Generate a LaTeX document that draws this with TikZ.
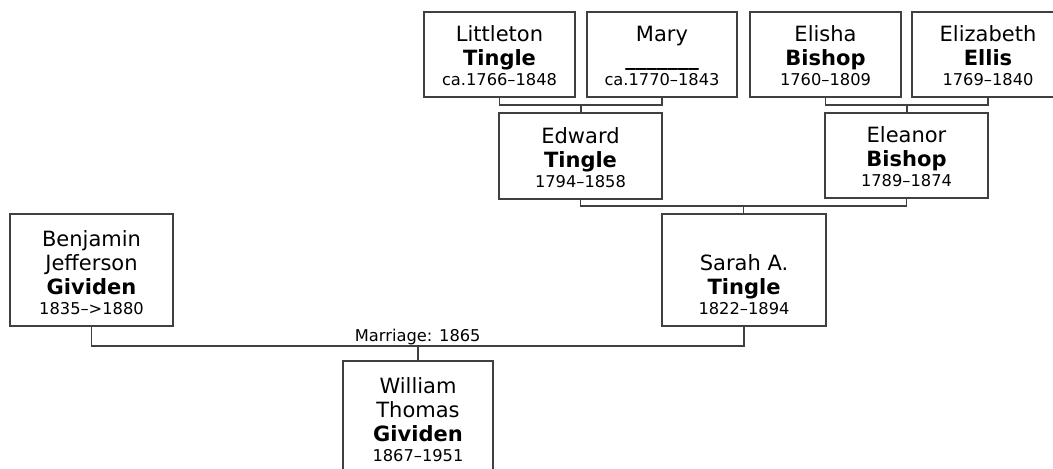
\documentclass[tikz,border=0pt]{standalone}
\usepackage{fontspec}
\setmainfont{DejaVu Sans}
\usetikzlibrary{calc}
\newcommand\namefont{\fontsize{15.75}{18}\selectfont}
\newcommand\datefont{\fontsize{12.2}{15}\selectfont}
\newcommand\pc[3]{\parbox[c][\dimexpr 0.75pt*#2 - 16.5pt\relax][b]{\dimexpr 0.75pt*#1\relax}{\namefont\centering #3\par}}
\definecolor{edge}{HTML}{404040}
\tikzset{
  person/.style 2 args={draw=edge, line width=1.4pt, inner sep=0pt, outer sep=0pt,
    minimum width=#1*0.75pt, minimum height=#2*0.75pt, fill=white},
  link/.style={draw=edge, line width=1.4pt},
}
\begin{document}
\begin{tikzpicture}[x=0.75pt,y=-0.75pt]
\useasboundingbox (0,0) rectangle (1053,468);
\clip (0,0) rectangle (1053,468);
% people
\node[person={151}{85}] (lit) at (499.5,54.5) {\pc{151}{85}{Littleton\\\textbf{Tingle}\\[-3pt]{\datefont ca.1766–1848}}};
\node[person={150}{85}] (mary) at (662,54.5) {\pc{150}{85}{Mary\\\textbf{\_\_\_\_\_\_\_}\\[-3pt]{\datefont ca.1770–1843}}};
\node[person={151}{85}] (elisha) at (825.5,54.5) {\pc{151}{85}{Elisha\\\textbf{Bishop}\\[-3pt]{\datefont 1760–1809}}};
\node[person={152}{85}] (eliz) at (988,54.5) {\pc{152}{85}{Elizabeth\\\textbf{Ellis}\\[-3pt]{\datefont 1769–1840}}};
\node[person={163}{86}] (edw) at (580.5,156) {\pc{163}{86}{Edward\\\textbf{Tingle}\\[-3pt]{\datefont 1794–1858}}};
\node[person={163}{85}] (ele) at (906.5,155.5) {\pc{163}{85}{Eleanor\\\textbf{Bishop}\\[-3pt]{\datefont 1789–1874}}};
\node[person={164}{112}] (sarah) at (744,270) {\pc{164}{112}{Sarah A.\\\textbf{Tingle}\\[-3pt]{\datefont 1822–1894}}};
\node[person={163}{112}] (ben) at (91.5,270) {\pc{163}{112}{Benjamin\\Jefferson\\\textbf{Gividen}\\[-3pt]{\datefont 1835–>1880}}};
\node[person={150}{112}] (wil) at (418,417) {\pc{150}{112}{William\\Thomas\\\textbf{Gividen}\\[-3pt]{\datefont 1867–1951}}};
% junctions
\coordinate (j1) at ($(lit.south)!0.5!(mary.south)+(0,8)$);
\coordinate (j2) at ($(elisha.south)!0.5!(eliz.south)+(0,8)$);
\coordinate (j3) at ($(edw.south)!0.5!(ele.south)+(0,7.5)$);
\coordinate (j4) at ($(ben.south)!0.5!(sarah.south)+(0,20)$);
% connectors
\draw[link] (lit.south) |- (j1) -| (mary.south);
\draw[link] (j1) -- (j1 |- edw.north);
\draw[link] (elisha.south) |- (j2) -| (eliz.south);
\draw[link] (j2) -- (j2 |- ele.north);
\draw[link] (edw.south) |- (j3) -| (ele.south);
\draw[link] (j3) -- (j3 |- sarah.north);
\draw[link] (ben.south) |- (j4) -| (sarah.south);
\draw[link] (j4) -- (j4 |- wil.north);
\node[anchor=base, inner sep=0pt, font=\datefont] (mlabel) at ($(j4)+(0,-4.5)$) {Marriage: 1865};
\end{tikzpicture}
\end{document}
